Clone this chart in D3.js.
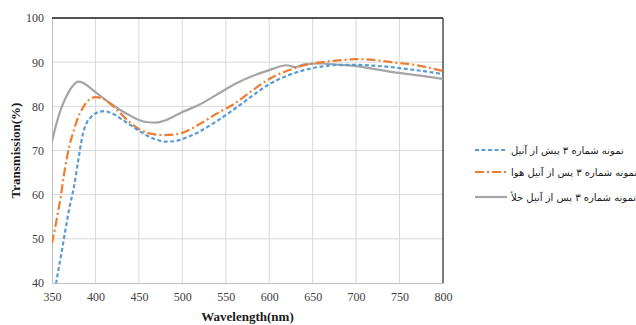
<!DOCTYPE html>
<html lang="en">
<head>
<meta charset="UTF-8">
<script src="https://d3js.org/d3.v7.min.js"></script>
<title>Transmission vs Wavelength</title>
<style>
  body { margin: 0; background: #fff; }
  svg { display: block; }
</style>
</head>
<body>
<div id="chart"></div>
<script>
// wavelengths (nm)
const wavelengths = [350, 355, 360, 365, 370, 375, 380, 385, 390, 395, 400, 410, 420, 430, 440, 450, 460, 470, 480, 490, 500,
  520, 540, 560, 580, 600, 620, 630, 640, 660, 680, 700, 720, 740, 760, 780, 800];

// sample 3 before annealing
const beforeAnneal = [34, 40.3, 45.8, 51.5, 57, 61.5, 67.5, 73.3, 76.3, 77.6, 78.4, 78.9, 78.3, 77.1, 75.8, 74.5, 73.3, 72.5, 72.0, 72.1, 72.6,
  74.3, 76.7, 79.4, 82.3, 85.0, 86.9, 87.6, 88.2, 89.0, 89.4, 89.4, 89.2, 88.9, 88.4, 87.9, 87.3];

// sample 3 after air annealing
const airAnneal = [49, 54, 59.5, 66, 71, 74.5, 77.5, 79.5, 81, 81.8, 82.1, 81.6, 80.1, 78.2, 76.3, 74.9, 74.0, 73.6, 73.5, 73.6, 74.0,
  76.0, 78.4, 80.6, 83.5, 86.2, 88.0, 88.7, 89.3, 90.0, 90.4, 90.7, 90.5, 90.0, 89.6, 88.9, 88.0];

// sample 3 after vacuum annealing
const vacuumAnneal = [72, 76, 79.2, 81.6, 83.5, 84.9, 85.6, 85.4, 84.8, 84.0, 83.2, 81.7, 80.3, 79.0, 77.9, 76.9, 76.4, 76.3, 76.8, 77.7, 78.7,
  80.4, 82.7, 85.0, 86.8, 88.2, 89.3, 88.9, 89.5, 89.7, 89.4, 89.1, 88.5, 87.8, 87.3, 86.8, 86.2];

const xTicks = [350, 400, 450, 500, 550, 600, 650, 700, 750, 800];
const yTicks = [40, 50, 60, 70, 80, 90, 100];

const seriesNames = ["نمونه شماره ۳ پیش از آنیل", "نمونه شماره ۳ پس از آنیل هوا", "نمونه شماره ۳ پس از آنیل خلأ"];

const series = [
  { name: seriesNames[0], values: beforeAnneal, color: "#5b9bd5", dash: "4,2.5" },
  { name: seriesNames[1], values: airAnneal, color: "#ed7d31", dash: "9,3,2,3" },
  { name: seriesNames[2], values: vacuumAnneal, color: "#a5a5a5", dash: null }
];

const W = 636, H = 325;
const plot = { left: 52, right: 443, top: 18, bottom: 283 };

const svg = d3.select("#chart").append("svg")
  .attr("width", W)
  .attr("height", H);

const x = d3.scaleLinear().domain([350, 800]).range([plot.left, plot.right]);
const y = d3.scaleLinear().domain([40, 100]).range([plot.bottom, plot.top]);

// gridlines
svg.append("g")
  .selectAll("line.vg")
  .data(xTicks.slice(1, -1))
  .join("line")
  .attr("x1", d => x(d)).attr("x2", d => x(d))
  .attr("y1", plot.top).attr("y2", plot.bottom)
  .attr("stroke", "#d9d9d9").attr("stroke-width", 1);

svg.append("g")
  .selectAll("line.hg")
  .data(yTicks.slice(1, -1))
  .join("line")
  .attr("x1", plot.left).attr("x2", plot.right)
  .attr("y1", d => y(d)).attr("y2", d => y(d))
  .attr("stroke", "#d9d9d9").attr("stroke-width", 1);

// axes
const xAxis = d3.axisBottom(x).tickValues(xTicks).tickSize(0).tickPadding(9);
const yAxis = d3.axisLeft(y).tickValues(yTicks).tickSize(0).tickPadding(8);

const gx = svg.append("g")
  .attr("transform", "translate(0," + plot.bottom + ")")
  .call(xAxis);
const gy = svg.append("g")
  .attr("transform", "translate(" + plot.left + ",0)")
  .call(yAxis);

[gx, gy].forEach(g => {
  g.attr("font-family", "'Liberation Serif', 'DejaVu Serif', serif");
  g.select(".domain").attr("stroke", "#bfbfbf");
  g.selectAll("text")
    .attr("font-size", 12)
    .attr("fill", "#404040");
});

// top and right borders
svg.append("line")
  .attr("x1", plot.left).attr("x2", plot.right)
  .attr("y1", plot.top).attr("y2", plot.top)
  .attr("stroke", "#1a1a1a").attr("stroke-width", 1.3);
svg.append("line")
  .attr("x1", plot.right).attr("x2", plot.right)
  .attr("y1", plot.top).attr("y2", plot.bottom)
  .attr("stroke", "#333").attr("stroke-width", 1.3);

// clip
svg.append("clipPath").attr("id", "clip")
  .append("rect")
  .attr("x", plot.left).attr("y", plot.top)
  .attr("width", plot.right - plot.left)
  .attr("height", plot.bottom - plot.top);

const line = d3.line()
  .x((d, i) => x(wavelengths[i]))
  .y(d => y(d))
  .curve(d3.curveMonotoneX);

const lines = svg.append("g").attr("clip-path", "url(#clip)");
// draw gray first so the dashed lines sit on top
[series[2], series[1], series[0]].forEach(s => {
  lines.append("path")
    .datum(s.values)
    .attr("d", line)
    .attr("fill", "none")
    .attr("stroke", s.color)
    .attr("stroke-width", 2.2)
    .attr("stroke-dasharray", s.dash);
});

// axis titles
svg.append("text")
  .attr("x", (plot.left + plot.right) / 2)
  .attr("y", 321)
  .attr("text-anchor", "middle")
  .attr("font-family", "'Liberation Serif', 'DejaVu Serif', serif")
  .attr("font-weight", "bold")
  .attr("font-size", 13)
  .attr("fill", "#1a1a1a")
  .text("Wavelength(nm)");

svg.append("text")
  .attr("transform", "translate(20," + ((plot.top + plot.bottom) / 2) + ") rotate(-90)")
  .attr("text-anchor", "middle")
  .attr("font-family", "'Liberation Serif', 'DejaVu Serif', serif")
  .attr("font-weight", "bold")
  .attr("font-size", 13)
  .attr("fill", "#1a1a1a")
  .text("Transmission(%)");

// legend
const legendY = [150, 172, 197];
const legend = svg.append("g");
series.forEach((s, i) => {
  legend.append("line")
    .attr("x1", 475).attr("x2", 507)
    .attr("y1", legendY[i]).attr("y2", legendY[i])
    .attr("stroke", s.color)
    .attr("stroke-width", 2.2)
    .attr("stroke-dasharray", s.dash);
  legend.append("text")
    .attr("x", 511)
    .attr("y", legendY[i] + 4)
    .attr("font-family", "'DejaVu Sans', 'Noto Sans', sans-serif")
    .attr("font-size", 10)
    .attr("fill", "#1a1a1a")
    .text(s.name);
});
</script>
</body>
</html>
